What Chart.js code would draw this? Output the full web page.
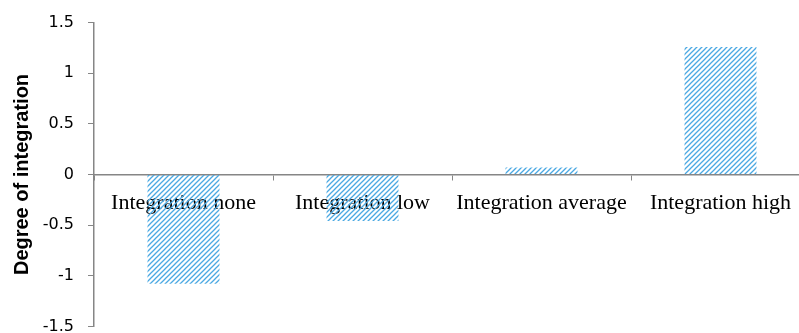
<!DOCTYPE html>
<html>
<head>
<meta charset="utf-8">
<script src="https://cdn.jsdelivr.net/npm/chart.js@4/dist/chart.umd.min.js"></script>
<style>
  html, body { margin: 0; padding: 0; background: #fff; overflow: hidden; }
  #wrap { position: relative; top: -1px; width: 812px; height: 351px; }
</style>
</head>
<body>
<div id="wrap"><canvas id="chart"></canvas></div>
<script>
const categories = ['Integration none', 'Integration low', 'Integration average', 'Integration high'];
const values = [-1.08, -0.46, 0.07, 1.26];
const yTicks = [-1.5, -1, -0.5, 0, 0.5, 1, 1.5];

// diagonal hatch like the original fill
function hatch() {
  const c = document.createElement('canvas');
  c.width = 5; c.height = 5;
  const g = c.getContext('2d');
  g.strokeStyle = '#4aa8e2';
  g.lineWidth = 1.3;
  g.beginPath();
  g.moveTo(-1, 6); g.lineTo(6, -1);
  g.moveTo(-1, 1); g.lineTo(1, -1);
  g.moveTo(4, 6); g.lineTo(6, 4);
  g.stroke();
  return g.createPattern(c, 'repeat');
}

const axisGray = '#868686';

new Chart(document.getElementById('chart'), {
  type: 'bar',
  data: {
    labels: categories,
    datasets: [{
      data: values,
      backgroundColor: hatch(),
      borderWidth: 0,
      categoryPercentage: 1,
      barPercentage: 0.402,
    }],
  },
  options: {
    responsive: true,
    maintainAspectRatio: false,
    animation: false,
    layout: { padding: { top: 17, bottom: 10, left: 10, right: 2 } },
    scales: {
      x: {
        position: { y: 0 },
        grid: { drawOnChartArea: false, tickLength: 5, color: axisGray, lineWidth: 1 },
        border: { color: axisGray, width: 1.5 },
        ticks: {
          color: '#000',
          padding: 11,
          maxRotation: 0,
          autoSkip: false,
          font: { family: '"Liberation Serif", "Times New Roman", serif', size: 22 },
        },
      },
      y: {
        min: -1.5,
        max: 1.5,
        afterBuildTicks: s => { s.ticks = yTicks.map(v => ({ value: v })); },
        afterFit: s => { s.width = 84; },
        grid: { drawOnChartArea: false, tickLength: 6, color: axisGray },
        border: { color: axisGray, width: 1.5 },
        ticks: {
          color: '#000',
          padding: 14,
          callback: v => String(v),
          font: { family: '"DejaVu Sans", sans-serif', size: 16 },
        },
        title: {
          display: true,
          text: 'Degree of integration',
          color: '#000',
          padding: { top: 0, bottom: 4 },
          font: { family: '"Liberation Sans", Arial, sans-serif', size: 20, weight: 'bold' },
        },
      },
    },
    plugins: {
      legend: { display: false },
      tooltip: { enabled: false },
    },
  },
});
</script>
</body>
</html>
